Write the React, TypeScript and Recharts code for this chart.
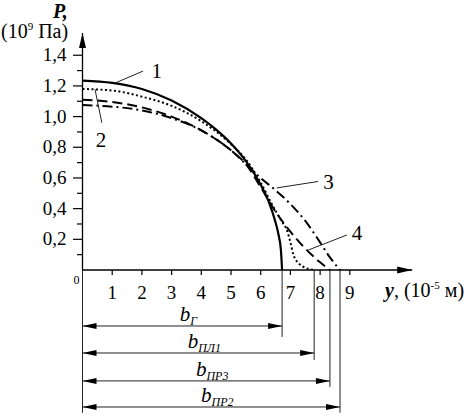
import { LineChart, Line, XAxis, YAxis, ReferenceLine, ReferenceDot } from "recharts";

const FONT = "Liberation Serif, Times New Roman, DejaVu Serif, serif";

// curve 1 (solid)
const y1 = [0, 1, 2, 3, 4, 4.5, 5, 5.5, 6, 6.3, 6.5, 6.6, 6.68, 6.72];
const p1 = [1.235, 1.22, 1.18, 1.105, 0.99, 0.915, 0.825, 0.71, 0.555, 0.43, 0.31, 0.23, 0.13, 0];
// curve 2 (dotted)
const y2 = [0, 1, 2, 3, 4, 5, 5.5, 6, 6.4, 6.7, 6.9, 7.0, 7.1, 7.3, 7.5, 7.8];
const p2 = [1.18, 1.17, 1.13, 1.07, 0.97, 0.82, 0.72, 0.57, 0.42, 0.32, 0.25, 0.18, 0.1, 0.04, 0.015, 0];
// curve 3 (dash-dot)
const y3 = [0, 1, 2, 3, 4, 5, 5.5, 6, 6.5, 7, 7.5, 8, 8.3, 8.67];
const p3 = [1.075, 1.065, 1.04, 0.99, 0.91, 0.78, 0.69, 0.6, 0.52, 0.43, 0.32, 0.18, 0.09, 0];
// curve 4 (dashed)
const y4 = [0, 1, 2, 3, 4, 5, 5.5, 6, 6.5, 7, 7.5, 8, 8.33];
const p4 = [1.11, 1.095, 1.06, 1.0, 0.91, 0.78, 0.69, 0.54, 0.38, 0.25, 0.14, 0.05, 0];

const xTicks = [1, 2, 3, 4, 5, 6, 7, 8, 9];
const yTicks = [0, 0.1, 0.2, 0.3, 0.4, 0.5, 0.6, 0.7, 0.8, 0.9, 1.0, 1.1, 1.2, 1.3, 1.4];

// contact half-widths
const bNames = ["Г", "ПЛ1", "ПР3", "ПР2"];
const bValues = [6.72, 7.8, 8.33, 8.67];

const X_MAX = 11.1;
const Y_MAX = 1.545;

const toData = (ys: number[], ps: number[]) => ys.map((y, i) => ({ y, p: ps[i] }));

// dimension rows below the axis (data units)
const dimLevels = [-0.365, -0.541, -0.723, -0.893];
const dimEnds = [-0.436, -0.586, -0.762, -0.93];

const serif = { fontFamily: FONT };

const YTick = ({ x, y, payload }: any) => {
  const v = Math.round(payload.value * 10);
  if (v === 0) {
    return <text x={x - 6} y={y + 14} textAnchor="middle" fontSize={12} style={serif} fill="#000">0</text>;
  }
  const major = v % 2 === 0;
  return (
    <g>
      <line x1={x - (major ? 9.5 : 5.5)} x2={x} y1={y} y2={y} stroke="#000" strokeWidth={1.2} />
      {major && (
        <text x={x - 16} y={y + 6} textAnchor="end" fontSize={19} style={serif} fill="#000">
          {(v / 10).toFixed(1).replace(".", ",")}
        </text>
      )}
    </g>
  );
};

const XTick = ({ x, y, payload }: any) => (
  <g>
    <line x1={x} x2={x} y1={y} y2={y + 5} stroke="#000" strokeWidth={1.2} />
    <text x={x} y={y + 29} textAnchor="middle" fontSize={19} style={serif} fill="#000">{payload.value}</text>
  </g>
);

const dimShape = (name: string) => (props: any) => {
  const { x1, x2, y1 } = props;
  const mid = (x1 + x2) / 2 + 6;
  return (
    <g>
      <line x1={x1} x2={x2} y1={y1} y2={y1} stroke="#222" strokeWidth={1} />
      <polygon points={`${x1},${y1} ${x1 + 14},${y1 - 3} ${x1 + 14},${y1 + 3}`} fill="#000" />
      <polygon points={`${x2},${y1} ${x2 - 14},${y1 - 3} ${x2 - 14},${y1 + 3}`} fill="#000" />
      <text x={mid} y={y1 - 5} textAnchor="middle" style={serif} fill="#000" fontStyle="italic">
        <tspan fontSize={21}>b</tspan>
        <tspan fontSize={12} dy={4}>{name}</tspan>
      </text>
    </g>
  );
};

const textShape = (t: string) => (props: any) => (
  <text x={props.cx} y={props.cy + 7} textAnchor="middle" fontSize={21} style={serif} fill="#000">{t}</text>
);

const arrowUp = (props: any) => (
  <polygon points={`${props.cx},${props.cy} ${props.cx - 3.5},${props.cy + 15} ${props.cx + 3.5},${props.cy + 15}`} fill="#000" />
);
const arrowRight = (props: any) => (
  <polygon points={`${props.cx},${props.cy} ${props.cx - 15},${props.cy - 3.5} ${props.cx - 15},${props.cy + 3.5}`} fill="#000" />
);

// curve number labels: [label, leader start, leader end, text position]
const curveLabels: [string, number[], number[], number[]][] = [
  ["1", [1.09, 1.218], [2.04, 1.297], [2.5, 1.3]],
  ["2", [0.42, 1.179], [0.65, 0.96], [0.62, 0.845]],
  ["3", [6.54, 0.535], [7.93, 0.577], [8.28, 0.575]],
  ["4", [7.6, 0.13], [8.9, 0.228], [9.24, 0.244]],
];

export default function App() {
  return (
    <div style={{ position: "absolute", left: 0, top: 0, width: 473, height: 417, background: "#fff" }}>
      <LineChart width={473} height={417} margin={{ top: 33, right: 60.8, left: 0, bottom: 117 }}>
        <XAxis
          type="number"
          dataKey="y"
          domain={[0, X_MAX]}
          ticks={xTicks}
          interval={0}
          allowDataOverflow
          height={30}
          tickSize={0}
          tickMargin={0}
          tickLine={false}
          axisLine={{ stroke: "#000", strokeWidth: 1.3 }}
          tick={<XTick />}
        />
        <YAxis
          type="number"
          dataKey="p"
          domain={[0, Y_MAX]}
          ticks={yTicks}
          interval={0}
          allowDataOverflow
          width={82.5}
          tickSize={0}
          tickMargin={0}
          tickLine={false}
          axisLine={{ stroke: "#000", strokeWidth: 1.3 }}
          tick={<YTick />}
        />
        <Line data={toData(y1, p1)} dataKey="p" type="monotone" stroke="#000" strokeWidth={2.2} dot={false} isAnimationActive={false} />
        <Line data={toData(y2, p2)} dataKey="p" type="monotone" stroke="#000" strokeWidth={2} strokeDasharray="2 2.5" dot={false} isAnimationActive={false} />
        <Line data={toData(y3, p3)} dataKey="p" type="monotone" stroke="#000" strokeWidth={2} strokeDasharray="10 4 2 4" dot={false} isAnimationActive={false} />
        <Line data={toData(y4, p4)} dataKey="p" type="monotone" stroke="#000" strokeWidth={2} strokeDasharray="10 5" dot={false} isAnimationActive={false} />

        <ReferenceDot x={0} y={Y_MAX} r={1} ifOverflow="visible" shape={arrowUp} />
        <ReferenceDot x={X_MAX} y={0} r={1} ifOverflow="visible" shape={arrowRight} />

        {curveLabels.map(([t, a, b]) => (
          <ReferenceLine key={"l" + t} segment={[{ x: a[0], y: a[1] }, { x: b[0], y: b[1] }]} ifOverflow="visible" stroke="#222" strokeWidth={1} />
        ))}
        {curveLabels.map(([t, , , c]) => (
          <ReferenceDot key={"t" + t} x={c[0]} y={c[1]} r={1} ifOverflow="visible" shape={textShape(t)} />
        ))}

        <ReferenceLine segment={[{ x: 0, y: 0 }, { x: 0, y: -0.93 }]} ifOverflow="visible" stroke="#222" strokeWidth={1} />
        {bValues.map((b, i) => (
          <ReferenceLine key={"v" + i} segment={[{ x: b, y: 0 }, { x: b, y: dimEnds[i] }]} ifOverflow="visible" stroke="#222" strokeWidth={1} />
        ))}
        {bValues.map((b, i) => (
          <ReferenceLine key={"d" + i} segment={[{ x: 0, y: dimLevels[i] }, { x: b, y: dimLevels[i] }]} ifOverflow="visible" shape={dimShape(bNames[i])} />
        ))}
      </LineChart>
      <svg width={473} height={417} style={{ position: "absolute", left: 0, top: 0, pointerEvents: "none" }}>
        <text x={53} y={18} fontSize={20} style={serif} fontWeight="bold" fontStyle="italic">P,</text>
        <text x={1} y={38} fontSize={20} style={serif}>
          (10<tspan fontSize={11} dy={-8}>9</tspan><tspan dy={8}> Па)</tspan>
        </text>
        <text x={385} y={297} fontSize={20} style={serif}>
          <tspan fontWeight="bold" fontStyle="italic">y</tspan>, (10<tspan fontSize={11} dy={-8}>-5</tspan><tspan dy={8}> м)</tspan>
        </text>
      </svg>
    </div>
  );
}
